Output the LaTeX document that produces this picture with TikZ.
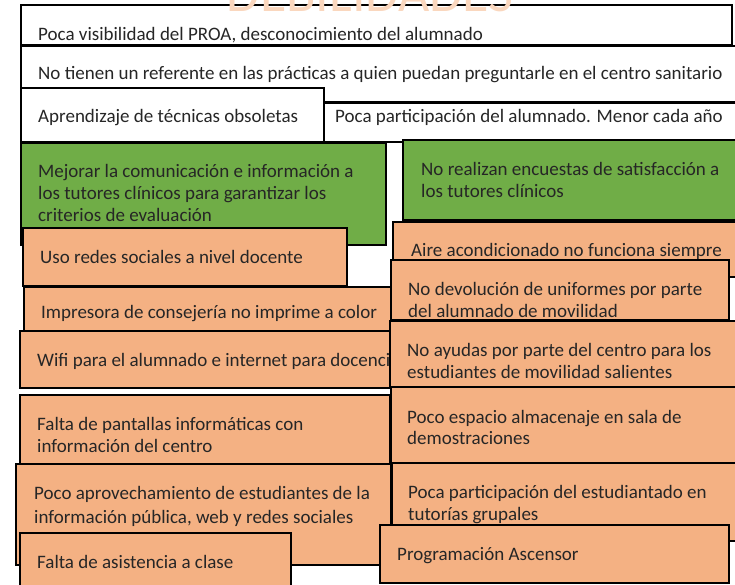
\documentclass[tikz,border=0pt]{standalone}
\usepackage{fontspec}
\setmainfont{Carlito}
\definecolor{grn}{HTML}{70AD47}
\definecolor{org}{HTML}{F4B183}
\definecolor{txc}{HTML}{262626}
\definecolor{wmk}{HTML}{FAD7BE}
\newcommand\mybox[6]{\node[box,fill=#6,minimum width={#4-#2},minimum height={#5-#3}] (#1) at (#2,#3) {};}
\newcommand\mytext[4]{\node[lbl] (#1) at (#2,#3) {#4};}
\begin{document}
\begin{tikzpicture}[x=1pt,y=-1pt,
  box/.style={draw=black, line width=1.4pt, anchor=north west, inner sep=0pt, outer sep=0pt},
  lbl/.style={anchor=base west, inner sep=0pt, text=txc, font=\fontsize{19}{22}\selectfont}]
\useasboundingbox (0,0) rectangle (735,585);
\clip (0,0) rectangle (735,585);
\fill[white] (0,0) rectangle (735,585);
% top white boxes
\mybox{b1}{21}{5}{732}{45}{white}
\node[anchor=base, inner sep=0pt, text=wmk, font=\fontsize{54}{54}\selectfont] (wm) at (370,12) {DEBILIDADES};
\mytext{t1}{38}{41}{Poca visibilidad del PROA, desconocimiento del alumnado}
\mybox{b2}{21}{46}{745}{102}{white}
\mytext{t2}{38}{80}{No tienen un referente en las prácticas a quien puedan preguntarle en el centro sanitario}
\mybox{b3}{21}{88}{324}{142}{white}
\mytext{t3}{38}{123}{Aprendizaje de técnicas obsoletas}
\mybox{b4}{324}{103}{745}{142}{white}
\mytext{t4}{335}{123}{Poca participación del alumnado. Menor cada año}
% green boxes
\mybox{g1}{21}{143}{386}{245}{grn}
\mytext{g1a}{38}{178}{Mejorar la comunicación e información a}
\mytext{g1b}{38}{200}{los tutores clínicos para garantizar los}
\mytext{g1c}{38}{222}{criterios de evaluación}
\mybox{g2}{403}{140}{745}{220}{grn}
\mytext{g2a}{421}{176}{No realizan encuestas de satisfacción a}
\mytext{g2b}{421}{198}{los tutores clínicos}
% orange boxes
\mybox{o1}{23}{228}{347}{286}{org}
\mytext{o1a}{40}{263}{Uso redes sociales a nivel docente}
\mybox{o2}{393}{222}{745}{277}{org}
\mytext{o2a}{411}{256}{Aire acondicionado no funciona siempre}
\mybox{o3}{24}{287}{391}{331}{org}
\mytext{o3a}{41}{318}{Impresora de consejería no imprime a color}
\mybox{o4}{391}{260}{729}{320}{org}
\mytext{o4a}{408}{295}{No devolución de uniformes por parte}
\mytext{o4b}{408}{317}{del alumnado de movilidad}
\mybox{o5}{20}{331}{392}{388}{org}
\mytext{o5a}{37}{366}{Wifi para el alumnado e internet para docencia}
\mybox{o6}{390}{321}{745}{387}{org}
\mytext{o6a}{407}{356}{No ayudas por parte del centro para los}
\mytext{o6b}{407}{378}{estudiantes de movilidad salientes}
\mybox{o7}{20}{395}{390}{464}{org}
\mytext{o7a}{37}{430}{Falta de pantallas informáticas con}
\mytext{o7b}{37}{452}{información del centro}
\mybox{o8}{391}{387}{745}{463}{org}
\mytext{o8a}{407}{423}{Poco espacio almacenaje en sala de}
\mytext{o8b}{407}{444}{demostraciones}
\mybox{o9}{16}{464}{391}{565}{org}
\mytext{o9a}{34}{499}{Poco aprovechamiento de estudiantes de la}
\mytext{o9b}{34}{523}{información pública, web y redes sociales}
\mybox{o10}{392}{463}{745}{541}{org}
\mytext{o10a}{408}{498}{Poca participación del estudiantado en}
\mytext{o10b}{408}{520}{tutorías grupales}
\mybox{o11}{20}{533}{291}{595}{org}
\mytext{o11a}{37}{568}{Falta de asistencia a clase}
\mybox{o12}{380}{525}{729}{583}{org}
\mytext{o12a}{397}{560}{Programación Ascensor}
\end{tikzpicture}
\end{document}
